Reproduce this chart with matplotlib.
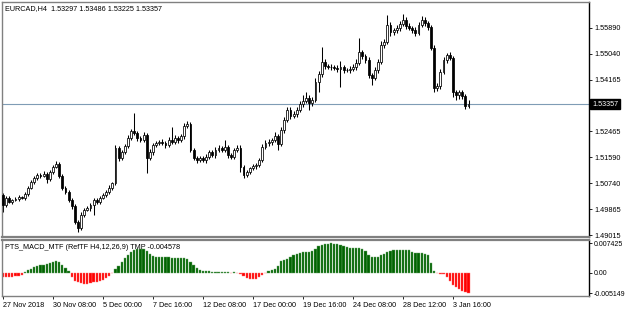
import numpy as np
import matplotlib
matplotlib.use("Agg")
import matplotlib.pyplot as plt
from matplotlib import font_manager

# narrow sans if present, otherwise the Arial-metric one at a smaller size
_names = {f.name for f in font_manager.fontManager.ttflist}
if "Liberation Sans Narrow" in _names:
    plt.rcParams['font.family'] = ['Liberation Sans Narrow', 'DejaVu Sans']
    FS = 6.0
else:
    plt.rcParams['font.family'] = ['Liberation Sans', 'DejaVu Sans']
    FS = 5.2

# ── price data (H4 bars, EURCAD) ─────────────────────────────
FIRST_OPEN = 1.5035
closes = [
    1.5002, 1.5025, 1.5012, 1.5018, 1.5022, 1.5028, 1.5025, 1.5038, 1.5058, 1.5078,
    1.5091, 1.5101, 1.5098, 1.5104, 1.5088, 1.5111, 1.5128, 1.5138, 1.5098, 1.5058,
    1.5045, 1.5018, 1.4998, 1.4945, 1.4925, 1.4968, 1.4985, 1.4991, 1.5002, 1.5018,
    1.5012, 1.5025, 1.5035, 1.5045, 1.5058, 1.5074, 1.5191, 1.5157, 1.5177, 1.5197,
    1.5224, 1.5247, 1.5240, 1.5224, 1.5217, 1.5234, 1.5157, 1.5177, 1.5201, 1.5207,
    1.5211, 1.5207, 1.5201, 1.5217, 1.5211, 1.5224, 1.5217, 1.5230, 1.5264, 1.5270,
    1.5184, 1.5157, 1.5151, 1.5157, 1.5151, 1.5161, 1.5177, 1.5167, 1.5184, 1.5191,
    1.5184, 1.5194, 1.5167, 1.5161, 1.5184, 1.5191, 1.5128, 1.5101, 1.5111, 1.5124,
    1.5131, 1.5134, 1.5151, 1.5194, 1.5207, 1.5211, 1.5217, 1.5230, 1.5204, 1.5250,
    1.5284, 1.5317, 1.5297, 1.5304, 1.5317, 1.5336, 1.5347, 1.5357, 1.5340, 1.5350,
    1.5410, 1.5436, 1.5476, 1.5463, 1.5459, 1.5459, 1.5456, 1.5453, 1.5459, 1.5450,
    1.5450, 1.5453, 1.5459, 1.5473, 1.5509, 1.5496, 1.5483, 1.5433, 1.5423, 1.5450,
    1.5476, 1.5533, 1.5543, 1.5599, 1.5576, 1.5582, 1.5589, 1.5602, 1.5616, 1.5596,
    1.5589, 1.5582, 1.5572, 1.5599, 1.5616, 1.5606, 1.5592, 1.5523, 1.5390, 1.5396,
    1.5443, 1.5483, 1.5499, 1.5489, 1.5376, 1.5367, 1.5376, 1.5363, 1.53297, 1.53357,
]
# wick lengths beyond the body, in pips
upper_wick = [
    7, 5, 6, 4, 5, 8, 4, 6, 5, 7,
    6, 8, 5, 9, 6, 7, 6, 8, 5, 6,
    5, 7, 6, 5, 6, 9, 5, 6, 7, 8,
    6, 5, 7, 6, 8, 5, 10, 7, 6, 8,
    9, 7, 60, 8, 6, 9, 7, 10, 6, 8,
    7, 9, 6, 10, 44, 8, 7, 6, 10, 9,
    6, 5, 7, 6, 8, 9, 7, 6, 10, 8,
    7, 23, 6, 8, 7, 9, 8, 6, 7, 5,
    6, 8, 7, 10, 9, 8, 7, 12, 8, 10,
    9, 11, 8, 10, 9, 12, 20, 19, 8, 10,
    12, 10, 50, 9, 8, 10, 7, 9, 20, 8,
    7, 10, 9, 12, 47, 8, 7, 9, 8, 10,
    9, 12, 8, 33, 10, 8, 9, 11, 20, 8,
    9, 7, 10, 9, 13, 8, 7, 6, 8, 9,
    10, 8, 7, 9, 6, 8, 7, 8, 6, 12.9,
]
lower_wick = [
    23, 6, 5, 7, 4, 6, 5, 8, 6, 5,
    7, 6, 8, 5, 15, 6, 7, 5, 8, 6,
    7, 6, 10, 7, 14, 6, 8, 5, 9, 34,
    6, 7, 5, 8, 6, 7, 6, 9, 7, 8,
    6, 8, 7, 9, 6, 8, 50, 7, 9, 6,
    8, 7, 9, 6, 8, 7, 9, 6, 8, 7,
    8, 6, 9, 7, 6, 10, 8, 7, 9, 6,
    8, 7, 9, 6, 8, 7, 16, 9, 6, 8,
    7, 9, 6, 8, 7, 9, 10, 8, 20, 7,
    9, 8, 10, 7, 9, 8, 10, 7, 25, 9,
    8, 34, 9, 10, 7, 9, 8, 10, 60, 9,
    8, 10, 7, 9, 8, 10, 9, 10, 23, 8,
    9, 7, 10, 8, 12, 9, 8, 10, 7, 9,
    8, 10, 9, 7, 8, 10, 9, 8, 14, 9,
    10, 8, 9, 7, 15, 16, 14, 9, 10, 7.2,
]

# ── indicator histogram ──────────────────────────────────────
macd = [
    -0.0010, -0.0011, -0.0011, -0.0010, -0.0009, -0.0008, -0.0005, 0.0002, 0.0006, 0.0010,
    0.0014, 0.0017, 0.0018, 0.0019, 0.0021, 0.0024, 0.0027, 0.0030, 0.0026, 0.0020,
    0.0012, 0.0003, -0.0012, -0.0020, -0.0025, -0.0027, -0.0028, -0.0028, -0.0027, -0.0025,
    -0.0023, -0.0021, -0.0018, -0.0014, -0.0008, -0.0002, 0.0008, 0.0016, 0.0026, 0.0036,
    0.0044, 0.0051, 0.0056, 0.0059, 0.0060, 0.0059, 0.0054, 0.0047, 0.0042, 0.0040,
    0.0039, 0.0039, 0.0038, 0.0038, 0.0037, 0.0037, 0.0036, 0.0036, 0.0036, 0.0033,
    0.0027, 0.0019, 0.0012, 0.0007, 0.0004, 0.0003, 0.0003, 0.0002, 0.0002, 0.0002,
    0.0001, 0.0001, 0.0001, -0.0001, 0.0001, -0.0001, -0.0003, -0.0009, -0.0013, -0.0015,
    -0.0015, -0.0015, -0.0012, -0.0006, -0.0001, 0.0004, 0.0007, 0.0010, 0.0016, 0.0028,
    0.0032, 0.0035, 0.0040, 0.0043, 0.0047, 0.0050, 0.0051, 0.0051, 0.0051, 0.0054,
    0.0060, 0.0066, 0.0070, 0.0072, 0.0073, 0.007425, 0.0073, 0.0072, 0.0069, 0.0066,
    0.0064, 0.0062, 0.0062, 0.0062, 0.0062, 0.0059, 0.0055, 0.0044, 0.0040, 0.0038,
    0.0040, 0.0043, 0.0047, 0.0052, 0.0055, 0.0058, 0.0058, 0.0058, 0.0058, 0.0058,
    0.0056, 0.0052, 0.0050, 0.0049, 0.0049, 0.0048, 0.0045, 0.0025, 0.0005, -0.0002,
    -0.0003, -0.0004, -0.0010, -0.0020, -0.0031, -0.0037, -0.0041, -0.0046, -0.0050, -0.005149,
]

date_labels = ["27 Nov 2018", "30 Nov 08:00", "5 Dec 00:00", "7 Dec 16:00",
               "12 Dec 08:00", "17 Dec 00:00", "19 Dec 16:00", "24 Dec 08:00",
               "28 Dec 12:00", "3 Jan 16:00"]
LABEL_STEP = 16   # bars between date labels

price_ticks = [1.55890, 1.55040, 1.54165, 1.52465, 1.51590, 1.50740, 1.49865, 1.49015]
macd_ticks = [0.007425, 0.0, -0.005149]
macd_tick_labels = ["0.007425", "0.00", "-0.005149"]

HEADER = "EURCAD,H4  1.53297 1.53486 1.53225 1.53357"
IND_TITLE = "PTS_MACD_MTF (RefTF H4,12,26,9) TMP -0.004578"
BID = 1.53357

# ─────────────────────────────────────────────────────────────
W, H = 625, 313
FRAME = "#808080"

c = np.array(closes)
o = np.concatenate([[FIRST_OPEN], c[:-1]])
h = np.maximum(o, c) + np.array(upper_wick) * 1e-4
l = np.minimum(o, c) - np.array(lower_wick) * 1e-4
x = np.arange(len(c))
up = c >= o

fig = plt.figure(figsize=(W / 100, H / 100), dpi=100)
fig.patch.set_facecolor("white")

ax = fig.add_axes([2 / W, (H - 237) / H, 587 / W, 235 / H])
ax2 = fig.add_axes([2 / W, (H - 296) / H, 587 / W, 56 / H], sharex=ax)

# candles
ax.vlines(x, l, h, color="black", lw=0.75, zorder=2)
body_bot = np.minimum(o, c)
body_h = np.maximum(np.abs(c - o), 0.00003)
ax.bar(x[up], body_h[up], bottom=body_bot[up], width=0.6,
       facecolor="white", edgecolor="black", lw=0.55, zorder=3)
ax.bar(x[~up], body_h[~up], bottom=body_bot[~up], width=0.6,
       facecolor="black", edgecolor="black", lw=0.55, zorder=3)

# bid line + label
ax.axhline(BID, color="#7f9cb5", lw=0.8, zorder=1)
ax.text(1.005, BID, f"{BID:.5f}", transform=ax.get_yaxis_transform(),
        ha="left", va="center", fontsize=FS, color="white",
        bbox=dict(facecolor="black", edgecolor="black", pad=1.2), clip_on=False)

ax.set_xlim(-0.3, 587 / 3.125 - 0.3)
ax.set_ylim(1.48949, 1.56753)
ax.yaxis.tick_right()
ax.set_yticks(price_ticks)
ax.set_yticklabels([f"{t:.5f}" for t in price_ticks])
ax.tick_params(axis="y", labelsize=FS, length=2.5, width=0.6, pad=1.5, color="black")
ax.tick_params(axis="x", bottom=False, labelbottom=False)
ax.text(0.005, 0.985, HEADER, transform=ax.transAxes, ha="left", va="top",
        fontsize=FS, color="black")

# indicator histogram
m = np.array(macd)
ax2.bar(x[m >= 0], m[m >= 0], width=0.7, color="#006400",
        edgecolor="#6aa66a", lw=0.3)
ax2.bar(x[m < 0], m[m < 0], width=0.7, color="#ff0000",
        edgecolor="#ff7070", lw=0.3)
ax2.set_ylim(-0.0059, 0.0082)
ax2.yaxis.tick_right()
ax2.set_yticks(macd_ticks)
ax2.set_yticklabels(macd_tick_labels)
ax2.tick_params(axis="y", labelsize=FS - 0.2, length=2.5, width=0.6, pad=1.0)
ax2.set_xticks(np.arange(len(date_labels)) * LABEL_STEP)
ax2.set_xticklabels(date_labels, ha="left")
ax2.tick_params(axis="x", labelsize=FS, length=2.5, width=0.6, pad=2)
ax2.text(0.005, 0.93, IND_TITLE, transform=ax2.transAxes, ha="left", va="top",
         fontsize=FS, color="black")

for a in (ax, ax2):
    a.set_facecolor("white")
    for s in a.spines.values():
        s.set_color(FRAME)
        s.set_linewidth(1.0)
ax.spines["bottom"].set_linewidth(1.6)
ax2.spines["top"].set_linewidth(1.6)
ax.spines["right"].set_color("black")
ax2.spines["right"].set_color("black")

fig.savefig("out.png", dpi=100)
